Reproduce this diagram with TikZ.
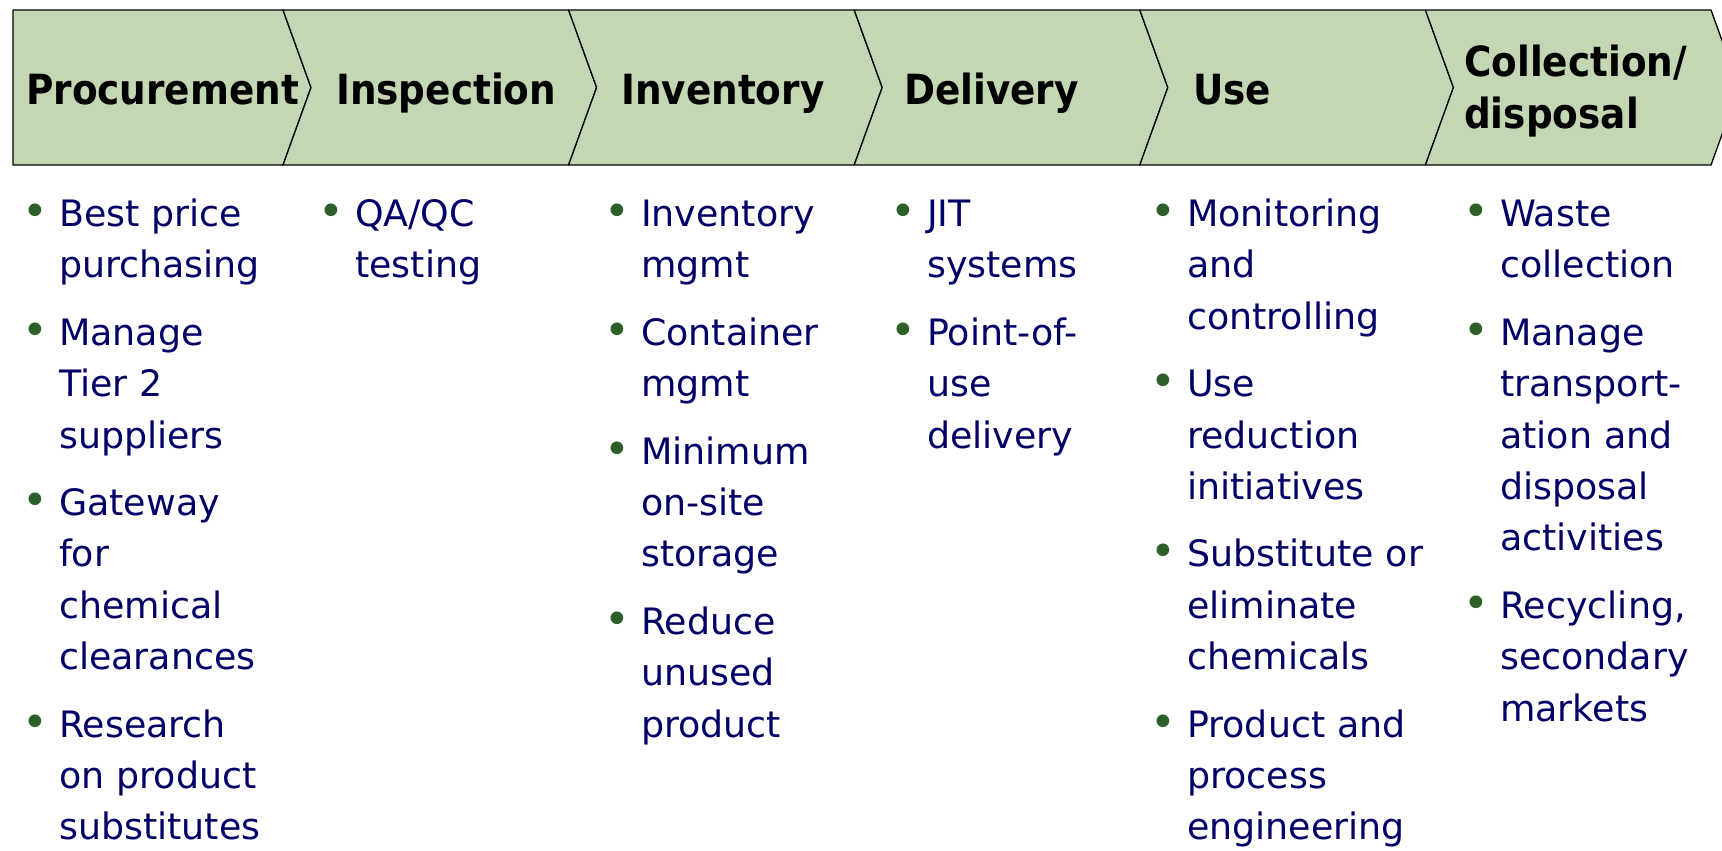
\documentclass[tikz,border=0pt]{standalone}
\usepackage{fontspec}
\usepackage{xcolor}
\usetikzlibrary{positioning}
\setmainfont{DejaVu Sans}
\newfontfamily\headfont{DejaVu Sans Bold}[FakeStretch=0.9]
\definecolor{bandgreen}{RGB}{196,215,181}
\definecolor{dotgreen}{RGB}{45,95,40}
\definecolor{textnavy}{RGB}{0,0,102}
\setlength{\parskip}{16bp}
% one bullet item, text hangs after the dot
\newcommand{\itm}[1]{\par\hangindent=37bp\hangafter=1\noindent\makebox[37bp][l]{\textcolor{dotgreen}{\scalebox{1.2}{\textbullet}}}\strut{\let\\\newline#1}}

\begin{document}
\begin{tikzpicture}[line join=round,x=1bp,y=-1bp,
  stage/.style={draw=black,line width=1.3bp,fill=bandgreen},
  head/.style={anchor=north west,inner sep=0pt,align=left,text=black,font=\headfont\fontsize{41.7}{48.5}\selectfont},
  items/.style={anchor=north west,inner sep=0pt,text width=300bp,text=textnavy,font=\fontsize{36.5}{51.6}\selectfont\setlength{\parskip}{16bp}}]
\useasboundingbox (0,0) rectangle (1722,851);

% the chevron band
\draw[stage] (13,10) -- (283,10) -- (311,87.5) -- (283,165) -- (13,165) -- cycle;
\foreach \a in {283,568.6,854.2,1139.8,1425.4}
  \draw[stage] (\a,10) -- ++(285.6,0) -- ++(28,77.5) -- ++(-28,77.5) -- ++(-285.6,0) -- ++(28,-77.5) -- cycle;

% stage titles
\node[head] (procure) at (26,70) {\strut Procurement};
\node[head] (inspect) at (336,70) {\strut Inspection};
\node[head] (invent) at (621,70) {\strut Inventory};
\node[head] (deliver) at (904,70) {\strut Delivery};
\node[head] (use) at (1193,70) {\strut Use};
\node[head] (collect) at (1464,42) {\strut Collection/\\[4bp]disposal};

% bullet lists under each stage
\node[items] (procurelist) at (22,158.9) {\itm{Best price\\purchasing}
  \itm{Manage\\Tier 2\\suppliers}
  \itm{Gateway\\for\\chemical\\clearances}
  \itm{Research\\on product\\substitutes}\par};
\node[items] (inspectlist) at (318,158.9) {\itm{QA/QC\\testing}\par};
\node[items] (inventlist) at (604,158.9) {\itm{Inventory\\mgmt}
  \itm{Container\\mgmt}
  \itm{Minimum\\on-site\\storage}
  \itm{Reduce\\unused\\product}\par};
\node[items] (deliverlist) at (890,158.9) {\itm{JIT\\systems}
  \itm{Point-of-\\use\\delivery}\par};
\node[items] (uselist) at (1150,158.9) {\itm{Monitoring\\and\\controlling}
  \itm{Use\\reduction\\initiatives}
  \itm{Substitute or\\eliminate\\chemicals}
  \itm{Product and\\process\\engineering}\par};
\node[items] (collectlist) at (1463,158.9) {\itm{Waste\\collection}
  \itm{Manage\\transport-\\ation and\\disposal\\activities}
  \itm{Recycling,\\secondary\\markets}\par};
\end{tikzpicture}
\end{document}
